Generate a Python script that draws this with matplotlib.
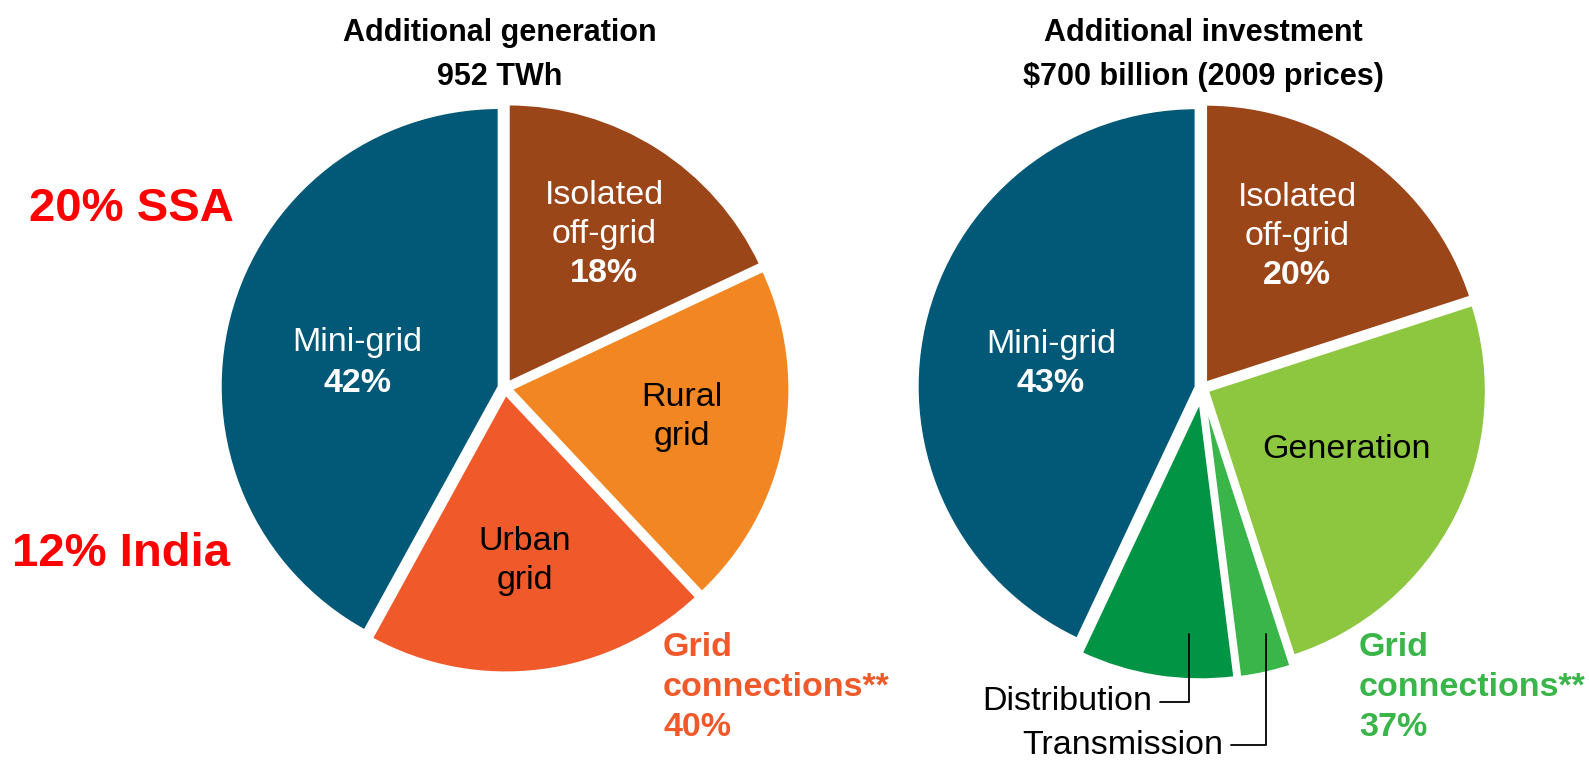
import numpy as np
import matplotlib
matplotlib.use("Agg")
from matplotlib import pyplot as plt

plt.rcParams['font.family'] = ['Liberation Sans', 'DejaVu Sans']

# data
gen_labels = ["Isolated off-grid", "Rural grid", "Urban grid", "Mini-grid"]
gen_values = [18, 20, 20, 42]
gen_colors = ["#9B4619", "#F28622", "#F05A2B", "#015877"]

inv_labels = ["Isolated off-grid", "Generation", "Transmission", "Distribution", "Mini-grid"]
inv_values = [20, 25, 3, 9, 43]
inv_colors = ["#9B4619", "#8DC63F", "#39B54A", "#009444", "#015877"]

gen_grid_share = gen_values[1] + gen_values[2]
inv_grid_share = inv_values[1] + inv_values[2] + inv_values[3]

W, H = 1589, 763
R = 279


def Y(y):
    # image row -> data y
    return H - y


fig = plt.figure(figsize=(W / 100, H / 100), dpi=100)
ax = fig.add_axes([0, 0, 1, 1])

# explode is in data units (pixels here)
ax.pie(gen_values, colors=gen_colors, startangle=90, counterclock=False,
       radius=R, center=(505, Y(388)), explode=[6, 6, 6, 6],
       wedgeprops=dict(edgecolor="white", linewidth=2.2))
ax.pie(inv_values, colors=inv_colors, startangle=90, counterclock=False,
       radius=R, center=(1202, Y(388)), explode=[6, 6, 13, 13, 6],
       wedgeprops=dict(edgecolor="white", linewidth=2.2))

ax.set_xlim(0, W)
ax.set_ylim(0, H)
ax.set_aspect("equal")
ax.axis("off")

fs = 24.5

# titles
ax.text(500, Y(41), "Additional generation", ha="center", va="baseline", fontsize=22, fontweight="bold")
ax.text(500, Y(85), "952 TWh", ha="center", va="baseline", fontsize=22, fontweight="bold")
ax.text(1203, Y(41), "Additional investment", ha="center", va="baseline", fontsize=22, fontweight="bold")
ax.text(1203, Y(85), "$700 billion (2009 prices)", ha="center", va="baseline", fontsize=22, fontweight="bold")

# red notes
ax.text(131, Y(209), "20% SSA", ha="center", va="center", fontsize=34, fontweight="bold", color="#FF0000")
ax.text(121, Y(554), "12% India", ha="center", va="center", fontsize=34, fontweight="bold", color="#FF0000")

# left pie labels
ax.text(604, Y(195), "Isolated", ha="center", va="center", fontsize=fs, color="white")
ax.text(604, Y(235), "off-grid", ha="center", va="center", fontsize=fs, color="white")
ax.text(604, Y(274), f"{gen_values[0]}%", ha="center", va="center", fontsize=fs, color="white", fontweight="bold")
ax.text(357, Y(343), "Mini-grid", ha="center", va="center", fontsize=fs, color="white")
ax.text(357, Y(383), f"{gen_values[3]}%", ha="center", va="center", fontsize=fs, color="white", fontweight="bold")
ax.text(682, Y(398), "Rural", ha="center", va="center", fontsize=fs, color="black")
ax.text(682, Y(436), "grid", ha="center", va="center", fontsize=fs, color="black")
ax.text(525, Y(542), "Urban", ha="center", va="center", fontsize=fs, color="black")
ax.text(525, Y(580), "grid", ha="center", va="center", fontsize=fs, color="black")
for i, t in enumerate(["Grid", "connections**", f"{gen_grid_share}%"]):
    ax.text(663, Y(647 + 40 * i), t, ha="left", va="center", fontsize=fs,
            color="#F05A2B", fontweight="bold")

# right pie labels
ax.text(1297, Y(197), "Isolated", ha="center", va="center", fontsize=fs, color="white")
ax.text(1297, Y(237), "off-grid", ha="center", va="center", fontsize=fs, color="white")
ax.text(1297, Y(276), f"{inv_values[0]}%", ha="center", va="center", fontsize=fs, color="white", fontweight="bold")
ax.text(1051, Y(345), "Mini-grid", ha="center", va="center", fontsize=fs, color="white")
ax.text(1051, Y(384), f"{inv_values[4]}%", ha="center", va="center", fontsize=fs, color="white", fontweight="bold")
ax.text(1347, Y(450), "Generation", ha="center", va="center", fontsize=fs, color="black")
for i, t in enumerate(["Grid", "connections**", f"{inv_grid_share}%"]):
    ax.text(1359, Y(647 + 40 * i), t, ha="left", va="center", fontsize=fs,
            color="#39B54A", fontweight="bold")

# leader labels
ax.annotate("Distribution", xy=(1189, Y(634)), xytext=(1152, Y(702)),
            ha="right", va="center", fontsize=fs,
            arrowprops=dict(arrowstyle="-", color="black", lw=1.3, shrinkA=4, shrinkB=0,
                            connectionstyle="angle,angleA=0,angleB=90,rad=0"))
ax.annotate("Transmission", xy=(1266, Y(634)), xytext=(1223, Y(745)),
            ha="right", va="center", fontsize=fs,
            arrowprops=dict(arrowstyle="-", color="black", lw=1.3, shrinkA=4, shrinkB=0,
                            connectionstyle="angle,angleA=0,angleB=90,rad=0"))

fig.savefig("out.png", dpi=100, facecolor="white")
